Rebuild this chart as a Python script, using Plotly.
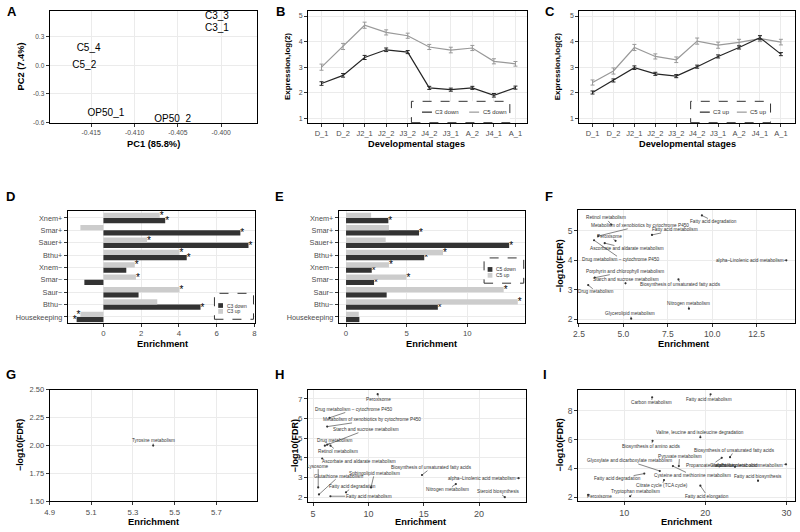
import plotly.graph_objects as go

W, H = 800, 532
FONT = "Liberation Sans"
DARK = "#333333"
LIGHT = "#cccccc"
LINE_DARK = "#262626"
LINE_GREY = "#999999"
TICK_GREY = "#4d4d4d"

# ---------------- DATA ----------------

# A: PCA
pca_labels = ["C3_3", "C3_1", "C5_4", "C5_2", "OP50_1", "OP50_2"]
pca_pc1 = [-0.4005, -0.4005, -0.4153, -0.4158, -0.4133, -0.4056]
pca_pc2 = [0.51, 0.383, 0.176, -0.003, -0.507, -0.566]
pc1_ticks = [-0.415, -0.410, -0.405, -0.400]
pc1_ticktext = ["-0.415", "-0.410", "-0.405", "-0.400"]
pc2_ticks = [-0.6, -0.3, 0.0, 0.3]
pc2_ticktext = ["-0.6", "-0.3", "0.0", "0.3"]

# B, C: expression over development
stages = ["D_1", "D_2", "J2_1", "J2_2", "J3_2", "J4_2", "J3_1", "A_2", "J4_1", "A_1"]
c3_down = [2.36, 2.68, 3.38, 3.68, 3.59, 2.19, 2.12, 2.19, 1.90, 2.20]
c3_down_se = [0.07, 0.07, 0.08, 0.07, 0.06, 0.06, 0.06, 0.06, 0.07, 0.06]
c5_down = [3.00, 3.81, 4.64, 4.36, 4.23, 3.79, 3.67, 3.75, 3.23, 3.13]
c5_down_se = [0.12, 0.12, 0.12, 0.10, 0.10, 0.10, 0.11, 0.10, 0.10, 0.09]
c3_up = [2.01, 2.48, 2.98, 2.74, 2.65, 3.02, 3.42, 3.77, 4.15, 3.51]
c3_up_se = [0.06, 0.06, 0.07, 0.06, 0.06, 0.06, 0.06, 0.06, 0.08, 0.06]
c5_up = [2.40, 2.85, 3.77, 3.42, 3.29, 4.02, 3.86, 3.97, 4.12, 3.98]
c5_up_se = [0.10, 0.12, 0.12, 0.10, 0.11, 0.12, 0.12, 0.12, 0.12, 0.11]
expr_ticks = [1, 2, 3, 4, 5]

# D, E: enrichment of gene sets (bottom to top)
gene_sets = ["Housekeeping", "Bthu\u2212", "Saur\u2212", "Smar\u2212", "Xnem\u2212",
             "Bthu+", "Sauer+", "Smar+", "Xnem+"]
d_c3_down = [-1.42, 5.14, 1.86, -1.01, 1.21, 4.41, 7.68, 7.25, 3.27]
d_c3_down_sig = [1, 1, 0, 0, 0, 1, 1, 1, 1]
d_c3_up = [-1.22, 2.85, 4.03, 1.72, 1.66, 4.03, 2.31, -1.22, 2.98]
d_c3_up_sig = [1, 0, 1, 1, 1, 1, 1, 0, 1]
e_c5_down = [1.10, 7.57, 3.35, 2.31, 2.12, 6.45, 13.45, 6.02, 3.49]
e_c5_down_sig = [0, 1, 0, 1, 1, 1, 1, 1, 1]
e_c5_up = [1.05, 14.16, 13.00, 4.98, 3.54, 8.00, 3.27, 3.54, 2.07]
e_c5_up_sig = [0, 1, 1, 1, 1, 1, 0, 0, 0]
d_ticks = [0, 2, 4, 6, 8]
e_ticks = [0, 5, 10]

# F: KEGG enrichment
f_names = ["Fatty acid degradation", "Retinol metabolism",
           "Metabolism of xenobiotics by cytochrome P450", "Fatty acid metabolism",
           "Peroxisome", "Ascorbate and aldarate metabolism",
           "Drug metabolism \u2013 cytochrome P450", "alpha\u2013Linolenic acid metabolism",
           "Porphyrin and chlorophyll metabolism", "Starch and sucrose metabolism",
           "Drug metabolism", "Biosynthesis of unsaturated fatty acids",
           "Nitrogen metabolism", "Glycerolipid metabolism"]
f_enrich = [9.42, 4.32, 3.58, 6.61, 4.56, 3.95, 3.35, 14.17, 3.39, 5.12, 3.02, 8.10, 8.69, 5.44]
f_fdr = [5.52, 5.21, 4.82, 4.86, 4.66, 4.58, 4.68, 4.00, 3.41, 3.22, 3.16, 3.35, 2.36, 2.02]
f_xticks = [2.5, 5.0, 7.5, 10.0, 12.5]
f_xticktext = ["2.5", "5.0", "7.5", "10.0", "12.5"]
f_yticks = [2, 3, 4, 5]

# G
g_names = ["Tyrosine metabolism"]
g_enrich = [5.397]
g_fdr = [2.0]
g_xticks = [4.9, 5.1, 5.3, 5.5, 5.7]
g_yticks = [1.5, 1.75, 2.0, 2.25, 2.5]
g_yticktext = ["1.50", "1.75", "2.00", "2.25", "2.50"]

# H
h_names = ["Peroxisome", "Drug metabolism \u2013 cytochrome P450",
           "Metabolism of xenobiotics by cytochrome P450", "Starch and sucrose metabolism",
           "Drug metabolism", "Retinol metabolism", "Ascorbate and aldarate metabolism",
           "Lysosome", "Glutathione metabolism", "Sphingolipid metabolism",
           "Fatty acid degradation", "Fatty acid metabolism",
           "Biosynthesis of unsaturated fatty acids", "alpha\u2013Linolenic acid metabolism",
           "Nitrogen metabolism", "Steroid biosynthesis"]
h_enrich = [10.84, 6.49, 6.28, 6.07, 6.28, 6.58, 5.83, 5.47, 5.54, 10.24, 7.98, 6.57,
            14.84, 23.57, 17.90, 22.32]
h_fdr = [7.24, 6.04, 5.59, 4.62, 4.67, 4.62, 3.97, 2.50, 2.14, 2.50, 2.25, 2.05,
         3.13, 2.97, 2.67, 2.00]
h_xticks = [5, 10, 15, 20]
h_yticks = [2, 3, 4, 5, 6, 7]

# I
i_names = ["Carbon metabolism", "Fatty acid metabolism",
           "Valine, leucine and isoleucine degradation", "Biosynthesis of amino acids",
           "Biosynthesis of unsaturated fatty acids", "Pyruvate metabolism",
           "Glyoxylate and dicarboxylate metabolism", "Propanoate metabolism",
           "Glutathione metabolism", "alpha\u2013Linolenic acid metabolism",
           "Cysteine and methionine metabolism", "Fatty acid degradation",
           "Fatty acid biosynthesis", "Citrate cycle (TCA cycle)", "Tryptophan metabolism",
           "Fatty acid elongation", "Peroxisome"]
i_enrich = [13.45, 20.65, 19.39, 13.50, 23.05, 16.74, 14.39, 22.03, 23.66, 29.95, 16.01,
            12.48, 26.50, 14.91, 10.73, 19.39, 5.56]
i_fdr = [8.93, 9.14, 6.16, 5.91, 4.78, 4.16, 3.82, 4.73, 4.11, 4.28, 4.16, 3.64, 3.14,
         3.19, 2.07, 2.80, 2.16]
i_xticks = [10, 20, 30]
i_yticks = [2, 4, 6, 8]

# label offsets (pixels, label centre relative to point) - repel layout
f_dx = [12, -5.7, 41.7, 23, -6, 22.3, 27.3, -36.7, 30, 0, 8.3, 2.3, -0.7, -0.7]
f_dy = [6, -6.7, -10.3, -5, -4.7, 5.3, 19, 0, -6, -4, 6.7, 5.3, -5, -5]
g_dx = [0]
g_dy = [-5]
h_dx = [1.3, 24.7, 45, 41.3, 7.7, 7, 36.7, 0, 20, 3.3, 6.7, 38.3, 9.3, -36.7, -8.3, -6.3]
h_dy = [5.3, -8.3, -6.7, -16, -4.7, 5.7, 2.7, -21.3, -18.3, -14, -5.7, 0, -7.3, 0.3, 5.7, -5.3]
i_dx = [-0.7, -1.3, 0, -1.3, 4.3, 0.7, -30.7, -10.7, 0, -36.7, 19.3, -26.7, 0, -2.3, 5.3, 7, 11.7]
i_dy = [5.7, 5.3, -5, 5.3, -6.7, -10, -10, 7.3, -1.7, 0.7, 9.3, 5, -4.7, 5.7, -4.7, 10.3, 1.7]

# ---------------- LAYOUT (pixel boxes: x0, x1, y0, y1) ----------------
boxes = {
    1: (45, 254, 7, 121),
    2: (305.7, 526.7, 7.3, 120.7),
    3: (579.3, 796.7, 7.3, 120.7),
    4: (63.3, 252.3, 211, 324),
    5: (336.7, 525, 211, 324),
    6: (578.3, 797, 210, 324),
    7: (45, 254, 392.3, 506),
    8: (305.7, 526, 392.3, 506.7),
    9: (578.3, 797, 392.7, 506),
}


def px(x):
    return x / W


def py(y):
    return 1 - y / H


layout = {}


def add_axes(n, xkw, ykw, xfs=6.5, yfs=6.5):
    x0, x1, y0, y1 = boxes[n]
    sfx = "" if n == 1 else str(n)
    common = dict(showline=True, linecolor="black", linewidth=1, mirror=True,
                  ticks="outside", ticklen=3, tickwidth=0.8, tickcolor="#333333",
                  showgrid=True, gridcolor="#ebebeb", gridwidth=0.8, zeroline=False)
    layout["xaxis" + sfx] = dict(common, domain=[px(x0), px(x1)], anchor="y" + sfx,
                                 tickfont=dict(family=FONT, size=xfs, color=TICK_GREY), **xkw)
    layout["yaxis" + sfx] = dict(common, domain=[py(y1), py(y0)], anchor="x" + sfx,
                                 tickfont=dict(family=FONT, size=yfs, color=TICK_GREY), **ykw)


add_axes(1, dict(range=[-0.4198, -0.3959], tickvals=pc1_ticks, ticktext=pc1_ticktext),
         dict(range=[-0.603, 0.569], tickvals=pc2_ticks, ticktext=pc2_ticktext), 6.8, 6.5)
add_axes(2, dict(type="category", range=[-0.626, 9.54]),
         dict(range=[0.83, 5.19], tickvals=expr_ticks), 7.5, 7)
add_axes(3, dict(type="category", range=[-0.635, 9.66]),
         dict(range=[0.83, 5.19], tickvals=expr_ticks), 7.5, 7)
add_axes(4, dict(range=[-1.89, 8.03], tickvals=d_ticks),
         dict(type="category", categoryorder="array", categoryarray=gene_sets,
              range=[-0.45, 8.53]), 7.8, 7.3)
add_axes(5, dict(range=[-0.6, 14.79], tickvals=e_ticks),
         dict(type="category", categoryorder="array", categoryarray=gene_sets,
              range=[-0.45, 8.53]), 7.8, 7.3)
add_axes(6, dict(range=[2.46, 14.66], tickvals=f_xticks, ticktext=f_xticktext),
         dict(range=[1.89, 5.69], tickvals=f_yticks), 8.5, 8.5)
add_axes(7, dict(range=[4.9, 5.894], tickvals=g_xticks),
         dict(range=[1.5, 2.5], tickvals=g_yticks, ticktext=g_yticktext), 7.8, 7.5)
add_axes(8, dict(range=[4.55, 24.27], tickvals=h_xticks),
         dict(range=[1.75, 7.47], tickvals=h_yticks), 9, 8)
add_axes(9, dict(range=[4.34, 31.06], tickvals=i_xticks),
         dict(range=[1.71, 9.43], tickvals=i_yticks), 9, 8.5)

fig = go.Figure()

# A
fig.add_trace(go.Scatter(x=pca_pc1, y=pca_pc2, mode="text", text=pca_labels,
                         textfont=dict(family=FONT, size=10, color="black"),
                         cliponaxis=False, xaxis="x", yaxis="y"))


# B, C
def line_trace(y, se, color, n):
    return go.Scatter(x=stages, y=y, mode="lines", line=dict(color=color, width=1.2),
                      error_y=dict(type="data", array=se, width=2, thickness=1, color=color),
                      xaxis="x%d" % n, yaxis="y%d" % n)


fig.add_trace(line_trace(c5_down, c5_down_se, LINE_GREY, 2))
fig.add_trace(line_trace(c3_down, c3_down_se, LINE_DARK, 2))
fig.add_trace(line_trace(c5_up, c5_up_se, LINE_GREY, 3))
fig.add_trace(line_trace(c3_up, c3_up_se, LINE_DARK, 3))


# D, E
STAR_FONT = dict(family=FONT, size=10, color="black")


def bar_trace(vals, sig, color, n):
    return go.Bar(y=gene_sets, x=vals, orientation="h", marker=dict(color=color, line_width=0),
                  text=["*" if s else "" for s in sig], textposition="outside",
                  textfont=STAR_FONT, outsidetextfont=STAR_FONT, insidetextfont=STAR_FONT,
                  constraintext="none", cliponaxis=False,
                  xaxis="x%d" % n, yaxis="y%d" % n)


fig.add_trace(bar_trace(d_c3_down, d_c3_down_sig, DARK, 4))
fig.add_trace(bar_trace(d_c3_up, d_c3_up_sig, LIGHT, 4))
fig.add_trace(bar_trace(e_c5_down, e_c5_down_sig, DARK, 5))
fig.add_trace(bar_trace(e_c5_up, e_c5_up_sig, LIGHT, 5))

annotations = []


# F, G, H, I: labelled points
def add_labelled(names, xs, ys, dxs, dys, n):
    fig.add_trace(go.Scatter(x=xs, y=ys, mode="markers",
                             marker=dict(size=2.2, color=DARK),
                             xaxis="x%d" % n, yaxis="y%d" % n))
    for name, x, y, dx, dy in zip(names, xs, ys, dxs, dys):
        annotations.append(dict(x=x, y=y, xref="x%d" % n, yref="y%d" % n, text=name,
                                showarrow=True, ax=dx, ay=dy, arrowhead=0, arrowwidth=0.6,
                                arrowcolor="#333333", standoff=0, borderpad=0,
                                font=dict(family=FONT, size=4.7, color="#333333")))


add_labelled(f_names, f_enrich, f_fdr, f_dx, f_dy, 6)
add_labelled(g_names, g_enrich, g_fdr, g_dx, g_dy, 7)
add_labelled(h_names, h_enrich, h_fdr, h_dx, h_dy, 8)
add_labelled(i_names, i_enrich, i_fdr, i_dx, i_dy, 9)


def text_at(x, y, text, size, bold=False, angle=0, anchor="center", color="black"):
    annotations.append(dict(x=px(x), y=py(y), xref="paper", yref="paper",
                            text="<b>%s</b>" % text if bold else text, showarrow=False,
                            textangle=angle, xanchor=anchor, yanchor="middle",
                            font=dict(family=FONT, size=size, color=color)))


# panel letters
for letter, x, y in [("A", 7, 8), ("B", 278.3, 8), ("C", 550, 8),
                     ("D", 6, 195.7), ("E", 277.3, 195.7), ("F", 548.3, 195.7),
                     ("G", 6, 377.3), ("H", 277, 377.3), ("I", 545, 377.3)]:
    text_at(x, y, letter, 13, bold=True)

# axis titles
text_at(149.5, 142.7, "PC1 (85.8%)", 9.3, bold=True)
text_at(15.7, 64, "PC2 (7.4%)", 9.3, bold=True, angle=-90)
text_at(415, 142.7, "Developmental stages", 9.2, bold=True)
text_at(285.7, 64, "Expression,log(2)", 8, bold=True, angle=-90)
text_at(688.3, 142.7, "Developmental stages", 9.2, bold=True)
text_at(558.3, 64, "Expression,log(2)", 8, bold=True, angle=-90)
text_at(159.3, 345.7, "Enrichment", 9.3, bold=True)
text_at(430.7, 345.7, "Enrichment", 9.3, bold=True)
text_at(684, 345.7, "Enrichment", 9.3, bold=True)
text_at(560, 267, "\u2212log10(FDR)", 9, bold=True, angle=-90)
text_at(150, 526.5, "Enrichment", 9.3, bold=True)
text_at(15.7, 449, "\u2212log10(FDR)", 8.8, bold=True, angle=-90)
text_at(419.3, 526.5, "Enrichment", 9.3, bold=True)
text_at(292.5, 449, "\u2212log10(FDR)", 9, bold=True, angle=-90)
text_at(688, 526.5, "Enrichment", 9.3, bold=True)
text_at(560, 449, "\u2212log10(FDR)", 9, bold=True, angle=-90)

# legends drawn by hand (dashed boxes as in the figure)
shapes = []


def dashed_box(x0, x1, y0, y1):
    shapes.append(dict(type="rect", xref="paper", yref="paper", x0=px(x0), x1=px(x1),
                       y0=py(y1), y1=py(y0), fillcolor="white", layer="above",
                       line=dict(color="#333333", width=1, dash="dash")))


def legend_line(x0, x1, y, color, label):
    shapes.append(dict(type="line", xref="paper", yref="paper", x0=px(x0), x1=px(x1),
                       y0=py(y), y1=py(y), layer="above", line=dict(color=color, width=1.2)))
    text_at(x1 + 1.5, y, label, 6, anchor="left", color="#333333")


def legend_square(x, y, color, label):
    shapes.append(dict(type="rect", xref="paper", yref="paper", x0=px(x - 2.4), x1=px(x + 2.4),
                       y0=py(y + 2.4), y1=py(y - 2.4), fillcolor=color, layer="above",
                       line=dict(width=0)))
    text_at(x + 4.5, y, label, 5, anchor="left", color="#333333")


dashed_box(410, 509.3, 99, 120.7)
legend_line(420.7, 430.7, 110, LINE_DARK, "C3 down")
legend_line(468.3, 478.3, 110, LINE_GREY, "C5 down")
dashed_box(691.7, 772.3, 99, 120.7)
legend_line(701, 711, 110, LINE_DARK, "C3 up")
legend_line(738.3, 748.3, 110, LINE_GREY, "C5 up")
dashed_box(211.3, 250.7, 294.3, 320.7)
legend_square(217.5, 306.7, DARK, "C3 down")
legend_square(217.5, 312.7, LIGHT, "C3 up")
dashed_box(483.3, 523.3, 258.3, 284)
legend_square(489.3, 270, DARK, "C5 down")
legend_square(489.3, 276, LIGHT, "C5 up")

fig.update_layout(**layout)
fig.update_layout(width=W, height=H, margin=dict(l=0, r=0, t=0, b=0),
                  paper_bgcolor="white", plot_bgcolor="white", showlegend=False,
                  barmode="group", bargap=0.15, bargroupgap=0,
                  font=dict(family=FONT), annotations=annotations, shapes=shapes)

# drop the default page margin so the figure sits at the window's corner
fig.write_html("out.html", config={"displayModeBar": False},
               post_script="document.body.style.margin='0';")
